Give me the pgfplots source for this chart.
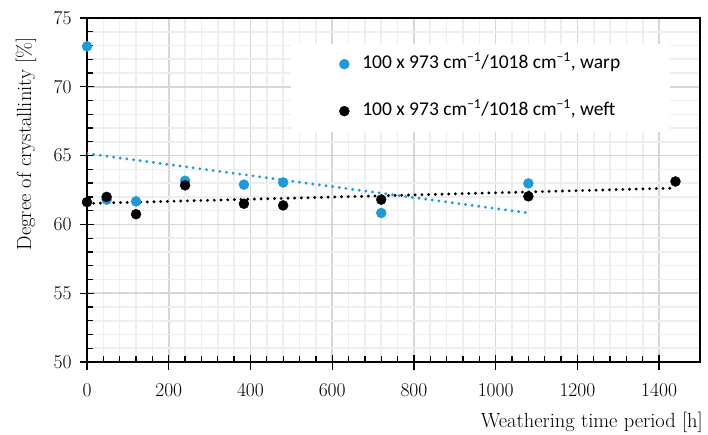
\documentclass[border=0pt]{standalone}
\usepackage{pgfplots}
\pgfplotsset{compat=1.18}
\usepackage{fontspec}
\newfontfamily\carlito{Carlito}
\definecolor{wblue}{RGB}{30,155,215}
\definecolor{majgrid}{RGB}{215,215,215}
\definecolor{mingrid}{RGB}{238,238,238}
\begin{document}
\begin{tikzpicture}
\path[use as bounding box] (0,0) rectangle (708pt,434pt);
\begin{axis}[
  at={(87pt,72pt)}, anchor=south west,
  scale only axis, width=613pt, height=344pt,
  xmin=0, xmax=1500, ymin=50, ymax=75,
  xtick={0,200,...,1400}, ytick={50,55,...,75},
  minor x tick num=4, minor y tick num=4,
  grid=both,
  major grid style={majgrid, line width=1.6pt},
  minor grid style={mingrid, line width=1.6pt},
  axis line style={line width=1.3pt},
  tick style={black, line width=1.3pt},
  tick align=inside, tick pos=left,
  major tick length=7pt, minor tick length=6pt,
  extra x ticks={0,200,...,1400}, extra x tick labels={},
  extra x tick style={grid=none, tick align=outside, major tick length=8pt},
  extra y ticks={50,55,...,75}, extra y tick labels={},
  extra y tick style={grid=none, tick align=outside, major tick length=7pt},
  /pgf/number format/assume math mode=true,
  /pgf/number format/1000 sep={},
  ticklabel style={font=\fontsize{19.5}{22}\selectfont},
  xticklabel style={yshift=-18pt},
  yticklabel style={xshift=-12pt},
  label style={font=\fontsize{20.5}{24}\selectfont},
  xlabel={Weathering time period [h]},
  ylabel={Degree of crystallinity [\%]},
  xlabel style={at={(axis description cs:1,0)}, anchor=north east, inner sep=0pt, yshift=-50pt, xshift=3pt},
  ylabel style={at={(axis description cs:0,0.634)}, anchor=center, inner sep=0pt, yshift=61pt},
  legend cell align=left,
  legend style={at={(rel axis cs:0.333,0.926)}, anchor=north west, fill=white, draw=none,
    font=\carlito\fontsize{19.5}{23}\selectfont, inner xsep=48pt, inner ysep=9pt,
    row sep=24pt, nodes={text height=14pt, text depth=5pt},
    /tikz/every odd column/.append style={column sep=11pt}},
]
\addplot[only marks, mark=*, mark size=5pt, mark options={draw=wblue, fill=wblue}]
  coordinates {(0,72.94) (48,61.8) (120,61.67) (240,63.17) (384,62.89) (480,63.05) (720,60.83) (1080,62.98)};
\addlegendentry{100 x 973 cm\textsuperscript{\char"2212 1}/1018 cm\textsuperscript{\char"2212 1}, warp}
\addplot[only marks, mark=*, mark size=5pt, mark options={draw=black, fill=black}]
  coordinates {(0,61.62) (48,62.0) (120,60.74) (240,62.84) (384,61.5) (480,61.38) (720,61.8) (1080,62.04) (1440,63.12)};
\addlegendentry{100 x 973 cm\textsuperscript{\char"2212 1}/1018 cm\textsuperscript{\char"2212 1}, weft}
\addplot[forget plot, wblue, line width=3.2pt, line cap=round, dash pattern=on 0pt off 6.7pt]
  coordinates {(0,65.15) (1080,60.83)};
\addplot[forget plot, black, line width=3.2pt, line cap=round, dash pattern=on 0pt off 6.7pt]
  coordinates {(0,61.52) (1440,62.64)};
\end{axis}
\end{tikzpicture}
\end{document}
